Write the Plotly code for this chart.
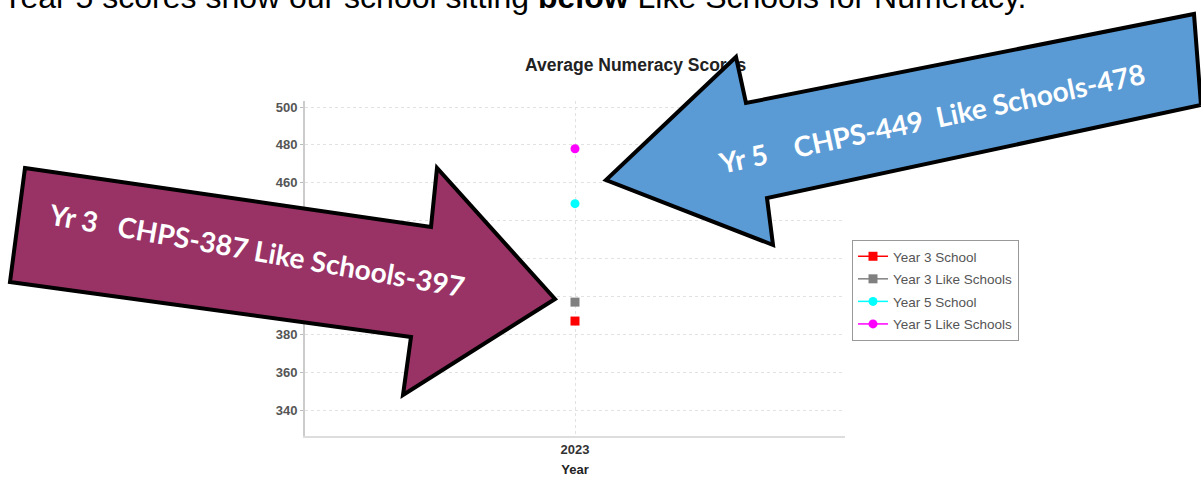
import plotly.graph_objects as go

# ---- data ----
years = ["2023"]
year3_school = [387]
year3_like = [397]
year5_school = [449]
year5_like = [478]
series_names = ["Year 3 School", "Year 3 Like Schools", "Year 5 School", "Year 5 Like Schools"]
y_ticks = [340, 360, 380, 400, 420, 440, 460, 480, 500]

chart_title = "Average Numeracy Scores"
x_title = "Year"
headline = "Year 5 scores show our school sitting <b>below</b> Like Schools for Numeracy."
yr3_note = "Yr 3\u00a0\u00a0\u00a0CHPS-387 Like Schools-397"
yr5_note = "Yr 5\u00a0\u00a0\u00a0\u00a0CHPS-449\u00a0\u00a0Like Schools-478"

W, H = 1201, 477

fig = go.Figure()

styles = [
    dict(color="#FF0000", symbol="square", size=9),
    dict(color="#808080", symbol="square", size=9),
    dict(color="#00FFFF", symbol="circle", size=9),
    dict(color="#FF00FF", symbol="circle", size=9),
]
for name, vals, st in zip(series_names, [year3_school, year3_like, year5_school, year5_like], styles):
    fig.add_trace(go.Scatter(
        x=years, y=vals, name=name, mode="lines+markers", legendgroup=name,
        marker=dict(color=st["color"], symbol=st["symbol"], size=st["size"]),
        line=dict(color=st["color"], width=1.5),
        xaxis="x", yaxis="y",
    ))

# chart title as text in the overlay (pixel) subplot so the arrow can cover it
fig.add_trace(go.Scatter(
    x=[525], y=[67], mode="text", text=["<b>" + chart_title + "</b>"],
    textposition="middle right",
    textfont=dict(family="Liberation Sans", size=17.5, color="#222"),
    showlegend=False, hoverinfo="skip", xaxis="x2", yaxis="y2",
))

x0, x1 = 305 / W, 845 / W
y0, y1 = 1 - 436 / H, 1 - 101 / H

grid = dict(showgrid=True, gridcolor="#E2E2E2", griddash="dot", gridwidth=1)

fig.update_layout(
    width=W, height=H,
    margin=dict(l=0, r=0, t=0, b=0, autoexpand=False),
    paper_bgcolor="white", plot_bgcolor="rgba(0,0,0,0)",
    xaxis=dict(domain=[x0, x1], type="category", range=[-0.5, 0.5],
               showline=True, linecolor="#DDDDDD", linewidth=2,
               ticks="", automargin=False,
               tickfont=dict(family="Liberation Sans", size=13, color="#333", weight="bold"),
               title=dict(text=x_title, standoff=10,
                          font=dict(family="Liberation Sans", size=13, color="#222", weight="bold")),
               **grid),
    yaxis=dict(domain=[y0, y1], range=[326.3, 503.2], tickvals=y_ticks,
               showline=True, linecolor="#CCCCCC", linewidth=2,
               ticks="outside", ticklen=3, tickcolor="#BBBBBB", automargin=False,
               tickfont=dict(family="Liberation Sans", size=13, color="#555", weight="bold"),
               zeroline=False, **grid),
    xaxis2=dict(domain=[0, 1], range=[0, W], anchor="y2", visible=False, fixedrange=True),
    yaxis2=dict(domain=[0, 1], range=[H, 0], anchor="x2", visible=False, fixedrange=True),
    legend=dict(x=852 / W, y=1 - 240 / H, xanchor="left", yanchor="top",
                bgcolor="white", bordercolor="#999999", borderwidth=1,
                tracegroupgap=2, traceorder="grouped",
                font=dict(family="Liberation Sans", size=13.5, color="#555")),
    showlegend=True,
)

# decorative arrows (pixel coordinates on the overlay subplot)
purple = "M 25 168 L 431 227 L 437 168 L 555 299 L 403 395 L 411 337 L 10 282 Z"
blue = "M 1194 14 L 1201 105 L 767 198 L 773 245 L 606 180 L 736 57 L 746 103 Z"
fig.add_shape(type="path", path=purple, xref="x2", yref="y2",
              fillcolor="#993366", line=dict(color="black", width=4), layer="above")
fig.add_shape(type="path", path=blue, xref="x2", yref="y2",
              fillcolor="#5B9BD5", line=dict(color="black", width=4), layer="above")

fig.add_annotation(x=257, y=250, xref="x2", yref="y2", text="<b>" + yr3_note + "</b>",
                   showarrow=False, textangle=10,
                   font=dict(family="Lato", size=28, color="white"))
fig.add_annotation(x=931, y=118, xref="x2", yref="y2", text="<b>" + yr5_note + "</b>",
                   showarrow=False, textangle=-12,
                   font=dict(family="Lato", size=28, color="white"))

fig.add_annotation(x=0, y=1 + 3 / H, xref="paper", yref="paper", xanchor="left", yanchor="middle",
                   text=headline, showarrow=False,
                   font=dict(family="Liberation Sans", size=32, color="black"))

fig.write_html("out.html", config={"displayModeBar": False},
               post_script="document.body.style.margin='0px';")
